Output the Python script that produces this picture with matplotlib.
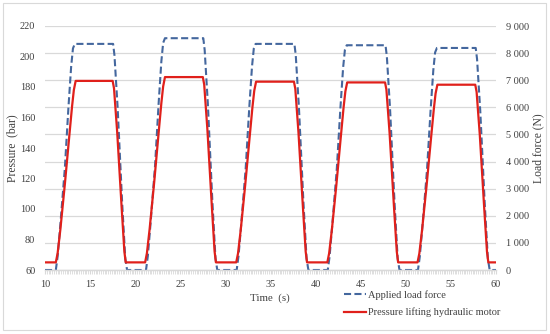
import matplotlib
matplotlib.use("Agg")
import matplotlib.pyplot as plt
from matplotlib.ticker import MultipleLocator
from matplotlib.patches import Rectangle

plt.rcParams['font.family'] = ['Liberation Serif', 'DejaVu Serif']

# Pressure lifting hydraulic motor (bar)
t_pressure = [10.0,
              11.2, 11.4, 11.7, 12.2, 12.7, 13.0, 13.2, 13.4,
              17.5, 17.65, 18.0, 18.5, 18.8, 18.95,
              21.1, 21.3, 21.6, 22.1, 22.6, 22.9, 23.1, 23.3,
              27.5, 27.65, 28.0, 28.5, 28.8, 28.95,
              31.2, 31.4, 31.7, 32.2, 32.7, 33.0, 33.2, 33.4,
              37.6, 37.75, 38.1, 38.6, 38.9, 39.05,
              41.3, 41.5, 41.8, 42.3, 42.8, 43.1, 43.3, 43.5,
              47.7, 47.85, 48.2, 48.7, 49.0, 49.15,
              51.3, 51.5, 51.8, 52.3, 52.8, 53.1, 53.3, 53.5,
              57.7, 57.85, 58.2, 58.7, 59.0, 59.15,
              60.0]
pressure = [65,
            65, 71.0, 86.4, 116.2, 148.3, 167.3, 178.1, 184,
            184, 179.2, 150.7, 100.7, 72.1, 65,
            65, 71.1, 86.9, 117.2, 150.1, 169.5, 180.4, 186.5,
            186.5, 181.6, 152.5, 101.5, 72.3, 65,
            65, 70.9, 86.3, 116.0, 147.9, 166.9, 177.6, 183.5,
            183.5, 178.8, 150.3, 100.6, 72.1, 65,
            65, 70.9, 86.2, 115.7, 147.6, 166.5, 177.1, 183,
            183, 178.3, 150.0, 100.4, 72.1, 65,
            65, 70.8, 86.0, 115.1, 146.6, 165.2, 175.7, 181.5,
            181.5, 176.8, 148.9, 99.9, 72.0, 65,
            65]

# Applied load force (N)
t_load = [10.0,
          11.2, 11.4, 11.7, 12.2, 12.6, 12.9, 13.1, 13.3,
          17.55, 17.7, 18.05, 18.55, 18.9, 19.1,
          21.2, 21.4, 21.7, 22.2, 22.6, 22.9, 23.1, 23.3,
          27.55, 27.7, 28.05, 28.55, 28.9, 29.1,
          31.25, 31.45, 31.75, 32.25, 32.65, 32.95, 33.15, 33.35,
          37.65, 37.8, 38.15, 38.65, 39.0, 39.2,
          41.35, 41.55, 41.85, 42.35, 42.75, 43.05, 43.25, 43.45,
          47.75, 47.9, 48.25, 48.75, 49.1, 49.3,
          51.35, 51.55, 51.85, 52.35, 52.75, 53.05, 53.25, 53.45,
          57.75, 57.9, 58.25, 58.75, 59.1, 59.3,
          60.0]
load = [0,
        0, 500, 1668, 3753, 6005, 7506, 8173, 8340,
        8340, 7923, 6005, 2502, 417, 0,
        0, 513, 1710, 3848, 6156, 7695, 8379, 8550,
        8550, 8123, 6156, 2565, 428, 0,
        0, 500, 1668, 3753, 6005, 7506, 8173, 8340,
        8340, 7923, 6005, 2502, 417, 0,
        0, 497, 1658, 3731, 5969, 7461, 8124, 8290,
        8290, 7876, 5969, 2487, 415, 0,
        0, 491, 1638, 3686, 5897, 7371, 8026, 8190,
        8190, 7781, 5897, 2457, 410, 0,
        0]

x_ticks = [10, 15, 20, 25, 30, 35, 40, 45, 50, 55, 60]
left_ticks = [60, 80, 100, 120, 140, 160, 180, 200, 220]
right_ticks = [0, 1000, 2000, 3000, 4000, 5000, 6000, 7000, 8000, 9000]
right_labels = ["0", "1 000", "2 000", "3 000", "4 000", "5 000",
                "6 000", "7 000", "8 000", "9 000"]

W, H = 550, 334
fig = plt.figure(figsize=(W / 100, H / 100), dpi=100)
fig.patches.append(Rectangle((3 / W, 4 / H), 543 / W, 327 / H, transform=fig.transFigure,
                             fill=False, edgecolor='#d9d9d9', linewidth=0.8))

ax = fig.add_axes([45 / W, 1 - 270 / H, (496 - 45) / W, (270 - 26) / H])
ax2 = ax.twinx()

text_color = '#404040'
grid_color = '#d9d9d9'

ax2.plot(t_load, load, color='#44679e', linewidth=1.5, dashes=(3.4, 1.6),
         label='Applied load force')
ax.plot(t_pressure, pressure, color='#e0201b', linewidth=1.6,
        label='Pressure lifting hydraulic motor')

ax.set_zorder(ax2.get_zorder() + 1)
ax.patch.set_visible(False)

ax.set_xlim(10, 60)
ax.set_ylim(60, 220)
ax2.set_ylim(0, 9000)

ax.set_xticks(x_ticks)
ax.xaxis.set_minor_locator(MultipleLocator(0.2))
ax.set_yticks(left_ticks)
ax2.set_yticks(right_ticks)
ax2.set_yticklabels(right_labels)

ax2.grid(True, axis='y', color=grid_color, linewidth=0.9)
ax2.set_axisbelow(True)

for a in (ax, ax2):
    for s in ('top', 'left', 'right'):
        a.spines[s].set_visible(False)
    a.spines['bottom'].set_color(grid_color)
    a.spines['bottom'].set_linewidth(0.9)

fs = 7.4
ax.tick_params(axis='y', length=0, pad=7, labelsize=fs, labelcolor=text_color)
ax2.tick_params(axis='y', length=0, pad=7, labelsize=fs, labelcolor=text_color)
ax.tick_params(axis='x', which='major', length=3, color=grid_color, pad=4,
               labelsize=fs, labelcolor=text_color)
ax.tick_params(axis='x', which='minor', length=3, color=grid_color)

ax.set_xlabel('Time  (s)', fontsize=7.8, color=text_color)
ax.xaxis.set_label_coords((270 - 45) / 451, -(298 - 270) / 244)
ax.set_ylabel('Pressure  (bar)', fontsize=8.4, color=text_color)
ax.yaxis.set_label_coords((12 - 45) / 451, 0.5)
ax2.set_ylabel('Load force (N)', fontsize=8.4, color=text_color)
ax2.yaxis.set_label_coords((538 - 45) / 451, 0.5)
ax.xaxis.label.set_va('center')
ax.yaxis.label.set_va('center')
ax2.yaxis.label.set_va('center')

h2, l2 = ax2.get_legend_handles_labels()
h1, l1 = ax.get_legend_handles_labels()
fig.legend(h2 + h1, l2 + l1, loc='upper left', bbox_to_anchor=(344 / W, 1 - 290 / H),
           frameon=False, fontsize=7.5, handlelength=2.1, handletextpad=0.25,
           labelspacing=0.75, labelcolor=text_color, borderaxespad=0, borderpad=0)

fig.savefig('out.png', dpi=100)
